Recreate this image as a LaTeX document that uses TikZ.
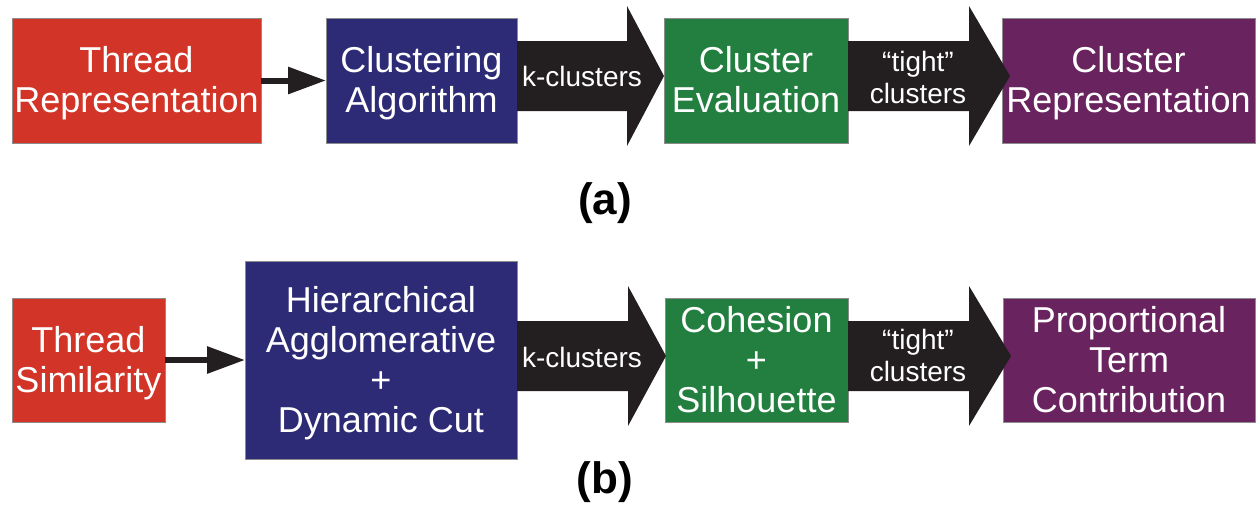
\documentclass[tikz,border=0pt]{standalone}
\usepackage{fontspec}
\setmainfont{Liberation Sans}
\usetikzlibrary{arrows.meta,calc}
\definecolor{boxred}{HTML}{D23427}
\definecolor{boxblue}{HTML}{2E2B76}
\definecolor{boxgreen}{HTML}{237F3F}
\definecolor{boxpurple}{HTML}{69235F}
\definecolor{boxedge}{HTML}{8C8C8C}
\definecolor{arrowblack}{HTML}{231F20}

% thick block arrow between two boxes: from, to, centre line, head length, tip overshoot
\newcommand\fatarrow[5]{%
  \coordinate (fs) at (#1.east |- #3);
  \coordinate (ft) at ($(#2.west |- #3)+(#5,0)$);
  \fill[fat] ($(fs)+(0,-35)$) -- ($(ft)+(-#4,-35)$) -- ($(ft)+(-#4,-70)$) -- (ft)
    -- ($(ft)+(-#4,70)$) -- ($(ft)+(-#4,35)$) -- ($(fs)+(0,35)$) -- cycle;
}

\begin{document}
\begin{tikzpicture}[x=0.5pt,y=-0.5pt,
  box/.style={draw=boxedge, line width=0.5pt, inner sep=0pt, outer sep=0pt,
    text=white, align=center, text depth=0.6pt, font=\fontsize{18}{20}\selectfont},
  link/.style={line width=3pt, draw=arrowblack, -{Triangle[length=19pt,width=13pt]}},
  fat/.style={fill=arrowblack},
  fatlabel/.style={text=white, align=center, inner sep=0pt,
    font=\fontsize{14}{16}\selectfont},
  caption/.style={font=\fontsize{22}{24}\selectfont\bfseries, text=black, inner sep=0pt}]

\useasboundingbox[fill=white] (0,0) rectangle (1258,505);

\coordinate (rowa) at (0,76);
\coordinate (rowb) at (0,356);

% (a) generic pipeline
\node[box, fill=boxred, minimum width=124.5pt, minimum height=62.5pt] (tr) at (136.5,80.5) {Thread\\Representation};
\node[box, fill=boxblue, minimum width=95.5pt, minimum height=62.5pt] (ca) at (421.5,80.5) {Clustering\\Algorithm};
\node[box, fill=boxgreen, minimum width=92pt, minimum height=62.5pt] (ce) at (756,80.5) {Cluster\\Evaluation};
\node[box, fill=boxpurple, minimum width=126.5pt, minimum height=62.5pt] (cr) at (1128.5,80.5) {Cluster\\Representation};

\draw[link] (tr.east) -- (ca.west);
\fatarrow{ca}{ce}{rowa}{37}{0}
\fatarrow{ce}{cr}{rowa}{41}{8}
\node[fatlabel] (ka) at (582,76) {k-clusters};
\node[fatlabel] (ta) at (918,77) {“tight”\\clusters};

\node[caption] (capa) at (605,203) {(a)};

% (b) concrete instance
\node[box, fill=boxred, minimum width=76.5pt, minimum height=62pt] (ts) at (88.5,360) {Thread\\Similarity};
\node[box, fill=boxblue, minimum width=136pt, minimum height=99pt] (ha) at (381,360) {Hierarchical\\Agglomerative\\+\\Dynamic Cut};
\node[box, fill=boxgreen, minimum width=91.5pt, minimum height=62pt] (cs) at (756.5,360) {Cohesion\\+\\Silhouette};
\node[box, fill=boxpurple, minimum width=126pt, minimum height=62pt] (pt) at (1129,360) {Proportional\\Term\\Contribution};

\draw[link] (ts.east) -- (ha.west);
\fatarrow{ha}{cs}{rowb}{38}{1}
\fatarrow{cs}{pt}{rowb}{42}{8}
\node[fatlabel] (kb) at (582,357) {k-clusters};
\node[fatlabel] (tb) at (918,355) {“tight”\\clusters};

\node[caption] (capb) at (605,482) {(b)};
\end{tikzpicture}
\end{document}
